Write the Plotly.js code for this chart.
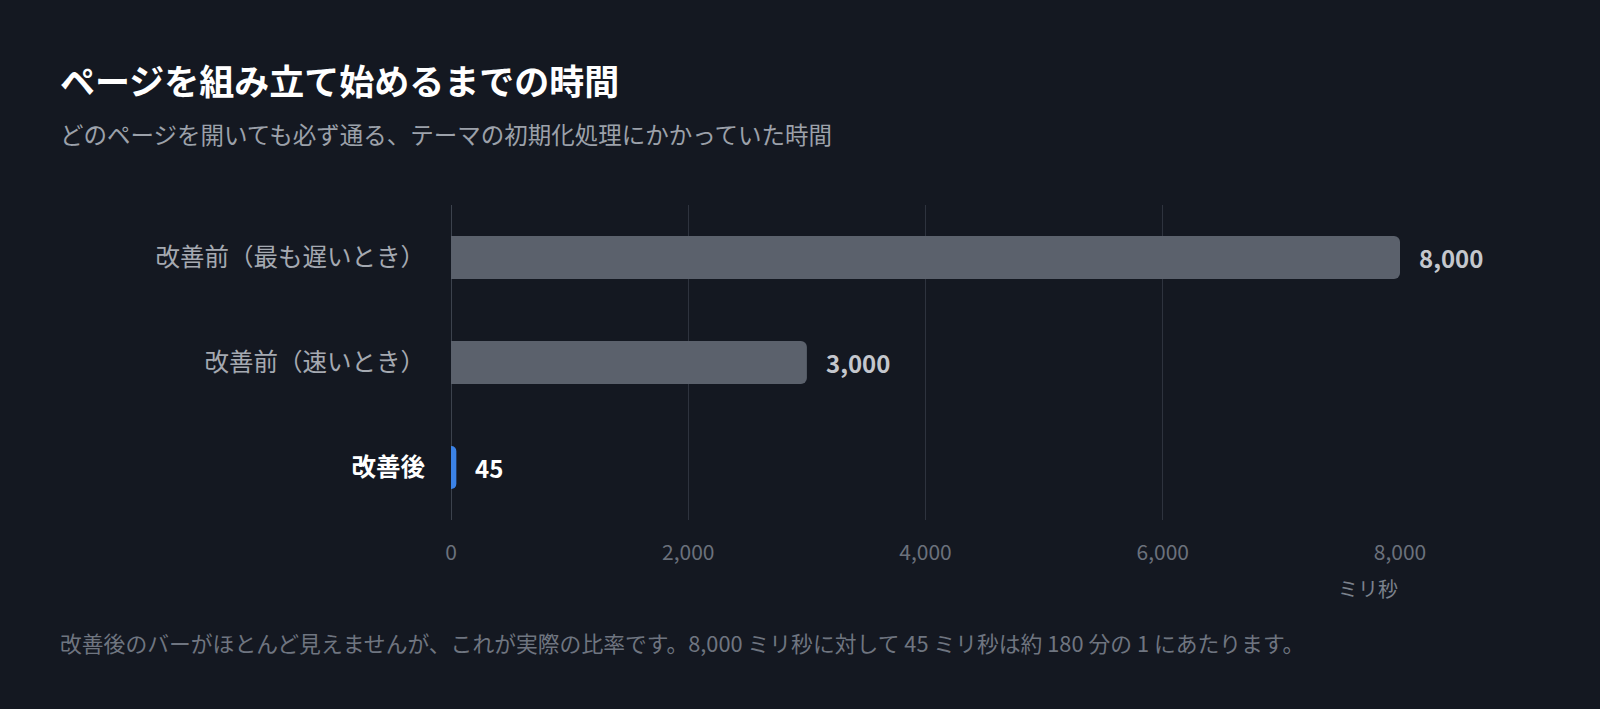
<!DOCTYPE html>
<html>
<head>
<meta charset="utf-8">
<script src="https://cdn.plot.ly/plotly-3.0.1.min.js"></script>
<style>
  html, body { margin: 0; padding: 0; background: #141821; }
  #chart { width: 1600px; height: 709px; }
</style>
</head>
<body>
<div id="chart"></div>
<script>
// data
const categories = ['改善前（最も遅いとき）', '改善前（速いとき）', '改善後'];
const values = [8000, 3000, 45];
const barColors = ['#5b616c', '#5b616c', '#3b82e6'];
const labelColors = ['#c4c7cd', '#c4c7cd', '#ffffff'];
const tickColors = ['#a5a9b1', '#a5a9b1', '#ffffff'];
const highlight = [false, false, true];
const xTicks = [0, 2000, 4000, 6000, 8000];

const FONT = '"Noto Sans CJK JP", "Noto Sans", sans-serif';

// plot box in pixels, used to place the free text in paper coords
const L = 451, R = 200, T = 205, B = 189, W = 1600, H = 709;
const pw = W - L - R, ph = H - T - B;
const px = x => (x - L) / pw;
const py = y => (H - B - y) / ph;

const fmt = v => v.toLocaleString('en-US');

const tickText = categories.map((c, i) => {
  const t = highlight[i] ? '<b>' + c + '</b>' : c;
  return '<span style="color:' + tickColors[i] + '">' + t + '</span>';
});

const data = [{
  type: 'bar',
  orientation: 'h',
  x: values,
  y: categories,
  width: 0.41,
  marker: { color: barColors, cornerradius: 6 },
  hoverinfo: 'skip',
}];

const annotations = values.map((v, i) => ({
  x: v, y: categories[i], xref: 'x', yref: 'y',
  text: '<b>' + fmt(v) + '</b>',
  showarrow: false, xanchor: 'left', xshift: 17,
  font: { family: FONT, size: 24, color: labelColors[i] },
}));

annotations.push(
  {
    xref: 'paper', yref: 'paper', x: px(58), y: py(79),
    xanchor: 'left', yanchor: 'middle', showarrow: false,
    text: '<b>ページを組み立て始めるまでの時間</b>',
    font: { family: FONT, size: 35, color: '#ffffff' },
  },
  {
    xref: 'paper', yref: 'paper', x: px(58), y: py(134),
    xanchor: 'left', yanchor: 'middle', showarrow: false,
    text: 'どのページを開いても必ず通る、テーマの初期化処理にかかっていた時間',
    font: { family: FONT, size: 23.5, color: '#9ca1aa' },
  },
  {
    xref: 'x', yref: 'paper', x: 8000, y: py(588),
    xanchor: 'right', yanchor: 'middle', showarrow: false,
    text: 'ミリ秒',
    font: { family: FONT, size: 20, color: '#7b818c' },
  },
  {
    xref: 'paper', yref: 'paper', x: px(58), y: py(642),
    xanchor: 'left', yanchor: 'middle', showarrow: false,
    text: '改善後のバーがほとんど見えませんが、これが実際の比率です。8,000 ミリ秒に対して 45 ミリ秒は約 180 分の 1 にあたります。',
    font: { family: FONT, size: 21.8, color: '#6f7580' },
  }
);

const layout = {
  width: W, height: H,
  margin: { l: L, r: R, t: T, b: B },
  paper_bgcolor: '#141821',
  plot_bgcolor: '#141821',
  font: { family: FONT, color: '#a5a9b1' },
  showlegend: false,
  xaxis: {
    range: [0, 8000],
    tickvals: xTicks,
    ticktext: xTicks.map(fmt),
    showgrid: true,
    gridcolor: '#2e333e',
    gridwidth: 1,
    zeroline: false,
    showline: false,
    ticks: '',
    ticklabelstandoff: 18,
    tickfont: { family: FONT, size: 21, color: '#6b717c' },
    fixedrange: true,
  },
  yaxis: {
    type: 'category',
    autorange: 'reversed',
    tickvals: categories,
    ticktext: tickText,
    showgrid: false,
    zeroline: false,
    showline: false,
    ticks: '',
    ticklabelstandoff: 25,
    tickfont: { family: FONT, size: 24.5, color: '#a5a9b1' },
    fixedrange: true,
  },
  shapes: [{
    type: 'line', xref: 'x', yref: 'paper',
    x0: 0, x1: 0, y0: 0, y1: 1,
    line: { color: '#4a505c', width: 1.5 },
    layer: 'below',
  }],
  annotations: annotations,
};

Plotly.newPlot('chart', data, layout, { displayModeBar: false, staticPlot: true });
</script>
</body>
</html>
